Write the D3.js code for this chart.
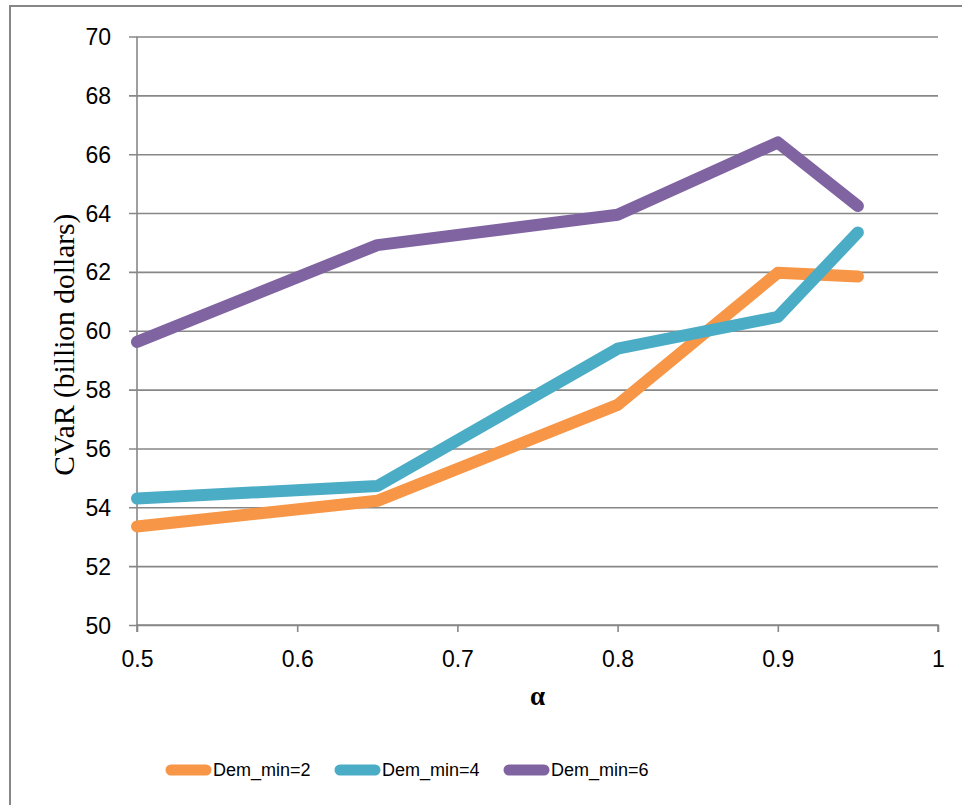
<!DOCTYPE html>
<html>
<head>
<meta charset="utf-8">
<script src="https://cdn.jsdelivr.net/npm/d3@7"></script>
<style>
  html, body { margin: 0; padding: 0; background: #fff; }
  svg { display: block; }
</style>
</head>
<body>
<script>
// CVaR against confidence level alpha, one line per minimum demand setting
const alphas = [0.5, 0.65, 0.8, 0.9, 0.95];
const seriesNames = ["Dem_min=2", "Dem_min=4", "Dem_min=6"];
const demMin2 = [53.35, 54.22, 57.48, 61.97, 61.84];
const demMin4 = [54.30, 54.72, 59.39, 60.47, 63.34];
const demMin6 = [59.62, 62.91, 63.94, 66.40, 64.24];
const seriesColors = ["#F79646", "#4BACC6", "#8064A2"];
const xTicks = [0.5, 0.6, 0.7, 0.8, 0.9, 1];
const yTicks = [50, 52, 54, 56, 58, 60, 62, 64, 66, 68, 70];

const W = 962, H = 805;
const plotLeft = 137, plotRight = 938, plotTop = 36.5, plotBottom = 625;
const gridColor = "#878787";

const svg = d3.select("body").append("svg").attr("width", W).attr("height", H);

// chart frame
svg.append("rect").attr("x", 10).attr("y", 6).attr("width", W + 20).attr("height", H + 20)
  .attr("fill", "#fff").attr("stroke", gridColor).attr("stroke-width", 2);

const x = d3.scaleLinear().domain([0.5, 1]).range([plotLeft, plotRight]);
const y = d3.scaleLinear().domain([50, 70]).range([plotBottom, plotTop]);

// horizontal gridlines + y axis
const yAxis = d3.axisLeft(y).tickValues(yTicks).tickSize(-(plotRight - plotLeft)).tickPadding(17)
  .tickFormat(d3.format("d"));
const gy = svg.append("g").attr("transform", `translate(${plotLeft},0)`).call(yAxis);
gy.select(".domain").remove();
gy.selectAll(".tick line").attr("stroke", gridColor).attr("stroke-width", 1.6)
  .attr("x1", -8);
gy.selectAll(".tick text").attr("font-family", "Liberation Sans, Arial, sans-serif")
  .attr("font-size", 23).attr("fill", "#000").attr("dy", "0.35em").attr("x", -26);

// x axis
const xAxis = d3.axisBottom(x).tickValues(xTicks).tickSize(7).tickPadding(19)
  .tickFormat(d => d === 1 ? "1" : d3.format(".1f")(d));
const gx = svg.append("g").attr("transform", `translate(0,${plotBottom})`).call(xAxis);
gx.select(".domain").attr("stroke", gridColor).attr("stroke-width", 1.6)
  .attr("d", `M${plotLeft},7V0H${plotRight}V7`);
gx.selectAll(".tick line").attr("stroke", gridColor).attr("stroke-width", 1.6);
gx.selectAll(".tick text").attr("font-family", "Liberation Sans, Arial, sans-serif")
  .attr("font-size", 23).attr("fill", "#000");

// y axis line
svg.append("line").attr("x1", plotLeft).attr("x2", plotLeft).attr("y1", plotTop).attr("y2", plotBottom)
  .attr("stroke", gridColor).attr("stroke-width", 1.6);

// axis titles
svg.append("text").attr("x", (plotLeft + plotRight) / 2).attr("y", 705)
  .attr("text-anchor", "middle").attr("font-family", "Liberation Serif, Times New Roman, serif")
  .attr("font-weight", "bold").attr("font-size", 27).text("α");
svg.append("text").attr("transform", `translate(74,${(plotTop + plotBottom) / 2 + 14}) rotate(-90)`)
  .attr("text-anchor", "middle").attr("font-family", "Liberation Serif, Times New Roman, serif")
  .attr("font-size", 29.5).text("CVaR (billion dollars)");

// series lines
const seriesValues = [demMin2, demMin4, demMin6];
const line = d3.line().x(d => x(d[0])).y(d => y(d[1]));
seriesValues.forEach((vals, i) => {
  svg.append("path")
    .datum(alphas.map((a, j) => [a, vals[j]]))
    .attr("d", line).attr("fill", "none")
    .attr("stroke", seriesColors[i]).attr("stroke-width", 12)
    .attr("stroke-linecap", "round").attr("stroke-linejoin", "round");
});

// legend
const legendX = [166, 335, 504];
const legendY = 770;
seriesNames.forEach((name, i) => {
  const g = svg.append("g").attr("transform", `translate(${legendX[i]},${legendY})`);
  g.append("line").attr("x1", 5).attr("x2", 40).attr("y1", 0).attr("y2", 0)
    .attr("stroke", seriesColors[i]).attr("stroke-width", 11).attr("stroke-linecap", "round");
  g.append("text").attr("x", 47).attr("y", 0).attr("dy", "0.36em")
    .attr("font-family", "Liberation Sans, Arial, sans-serif").attr("font-size", 18)
    .text(name);
});
</script>
</body>
</html>
